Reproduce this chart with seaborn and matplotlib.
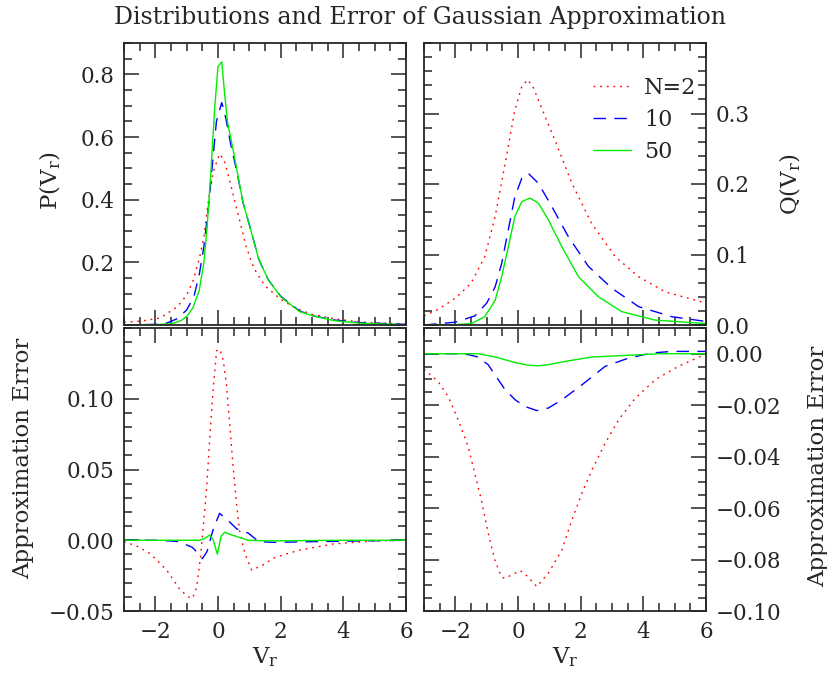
import matplotlib
matplotlib.use("Agg")
import matplotlib.pyplot as plt
import seaborn as sns
from matplotlib.ticker import MultipleLocator

# ---- P(V_r) (top left) ----
p2_x = [-3.0, -2.5, -1.85, -1.3, -1.0, -0.8, -0.6, -0.45, -0.3, -0.15, 0.05, 0.2, 0.35, 0.5, 0.7, 0.9,
        1.15, 1.5, 2.0, 2.5, 3.0, 3.7, 4.5, 5.2, 6.0]
p2_y = [0.009, 0.012, 0.022, 0.058, 0.095, 0.14, 0.21, 0.28, 0.40, 0.49, 0.546, 0.525, 0.47, 0.41,
        0.33, 0.25, 0.18, 0.125, 0.082, 0.052, 0.034, 0.02, 0.01, 0.006, 0.003]
p10_x = [-3.0, -2.0, -1.64, -1.3, -1.0, -0.77, -0.6, -0.45, -0.3, -0.2, -0.05, 0.12, 0.25, 0.4, 0.6,
         0.8, 1.0, 1.3, 1.6, 2.0, 2.6, 3.0, 3.7, 4.5, 6.0]
p10_y = [0.0, 0.002, 0.006, 0.02, 0.048, 0.09, 0.16, 0.25, 0.38, 0.49, 0.65, 0.71, 0.66, 0.58, 0.49,
         0.39, 0.32, 0.21, 0.145, 0.092, 0.045, 0.03, 0.016, 0.008, 0.002]
p50_x = [-3.0, -2.0, -1.5, -1.2, -1.0, -0.8, -0.6, -0.45, -0.35, -0.22, -0.1, 0.0, 0.12, 0.2, 0.3,
         0.5, 0.8, 1.0, 1.3, 1.6, 2.0, 2.6, 3.0, 3.7, 4.5, 6.0]
p50_y = [0.0, 0.001, 0.004, 0.013, 0.027, 0.055, 0.11, 0.2, 0.31, 0.5, 0.7, 0.825, 0.84, 0.75, 0.65,
         0.55, 0.39, 0.32, 0.21, 0.145, 0.09, 0.043, 0.03, 0.014, 0.006, 0.001]

# ---- Q(V_r) (top right) ----
q2_x = [-3.0, -2.55, -2.0, -1.5, -1.06, -0.73, -0.41, -0.1, 0.12, 0.31, 0.5, 0.65, 1.18, 1.72, 2.35,
        3.1, 3.85, 4.7, 6.0]
q2_y = [0.013, 0.022, 0.038, 0.059, 0.097, 0.154, 0.229, 0.305, 0.338, 0.348, 0.336, 0.319, 0.262,
        0.201, 0.144, 0.097, 0.0685, 0.047, 0.031]
q10_x = [-3.0, -2.5, -2.0, -1.37, -1.0, -0.73, -0.52, -0.31, -0.1, 0.12, 0.33, 0.65, 1.08, 1.61, 2.25,
         3.0, 3.85, 4.91, 6.0]
q10_y = [0.0, 0.002, 0.004, 0.013, 0.031, 0.054, 0.0875, 0.135, 0.182, 0.208, 0.215, 0.201, 0.168,
         0.125, 0.083, 0.052, 0.026, 0.0118, 0.005]
q50_x = [-3.0, -2.0, -1.49, -1.06, -0.73, -0.52, -0.31, -0.1, 0.12, 0.38, 0.65, 0.97, 1.4, 1.93, 2.57,
         3.31, 4.37, 6.0]
q50_y = [0.0, 0.0005, 0.002, 0.0118, 0.035, 0.0685, 0.111, 0.154, 0.175, 0.18, 0.173, 0.149, 0.111,
         0.0685, 0.04, 0.019, 0.007, 0.002]

# ---- error of P (bottom left) ----
ep2_x = [-3.0, -2.6, -2.17, -1.64, -1.21, -0.95, -0.81, -0.68, -0.57, -0.47, -0.36, -0.26, -0.15,
         -0.045, 0.06, 0.17, 0.28, 0.38, 0.49, 0.6, 0.7, 0.86, 1.07, 1.4, 1.77, 2.2, 2.62, 3.68, 4.96, 6.0]
ep2_y = [-0.001, -0.004, -0.0094, -0.021, -0.035, -0.040, -0.041, -0.033, -0.014, 0.0094, 0.0377,
         0.073, 0.108, 0.134, 0.135, 0.127, 0.108, 0.080, 0.050, 0.024, 0.005, -0.0094, -0.021,
         -0.018, -0.0127, -0.0095, -0.0069, -0.0026, -0.0005, 0.0]
ep10_x = [-3.0, -2.0, -1.5, -1.25, -0.82, -0.6, -0.5, -0.35, -0.15, 0.05, 0.3, 0.6, 0.97, 1.3, 1.8,
          3.0, 6.0]
ep10_y = [0.0, 0.0, -0.0005, -0.001, -0.005, -0.010, -0.013, -0.008, 0.008, 0.019, 0.0144, 0.008,
          0.005, -0.001, -0.0015, -0.001, 0.0]
ep50_x = [-3.0, -0.6, -0.45, -0.26, -0.15, -0.02, 0.1, 0.22, 0.4, 0.6, 0.97, 1.5, 2.5, 4.0, 6.0]
ep50_y = [0.0, 0.0, 0.001, 0.0037, 0.0, -0.0099, 0.003, 0.0057, 0.004, 0.0026, 0.0, -0.0004,
          -0.0003, 0.0, 0.0]

# ---- error of Q (bottom right) ----
eq2_x = [-3.0, -2.55, -2.23, -1.91, -1.59, -1.38, -1.17, -0.95, -0.74, -0.53, -0.43, -0.2, 0.07, 0.3,
         0.6, 0.97, 1.4, 1.72, 2.04, 2.36, 2.78, 3.21, 3.74, 4.38, 5.12, 5.87, 6.0]
eq2_y = [-0.006, -0.0108, -0.0166, -0.0257, -0.0361, -0.0465, -0.0568, -0.0698, -0.0802, -0.0867,
         -0.0873, -0.086, -0.0843, -0.0865, -0.0905, -0.0853, -0.0763, -0.0646, -0.0542, -0.0451,
         -0.0348, -0.0257, -0.0173, -0.0101, -0.0049, -0.0008, -0.0005]
eq10_x = [-3.0, -2.0, -1.6, -1.27, -0.95, -0.63, -0.41, -0.09, 0.22, 0.6, 0.97, 1.4, 2.04, 2.78, 3.53,
          4.27, 4.91, 6.0]
eq10_y = [0.0, 0.0, -0.0003, -0.0013, -0.0043, -0.0101, -0.014, -0.0179, -0.0205, -0.0221, -0.0211,
          -0.0179, -0.0121, -0.0049, -0.0017, 0.0003, 0.0009, 0.0009]
eq50_x = [-3.0, -1.27, -0.71, -0.11, 0.3, 0.65, 1.0, 1.5, 2.35, 3.85, 4.5, 6.0]
eq50_y = [0.0, 0.0, -0.0013, -0.0034, -0.0044, -0.0047, -0.0042, -0.003, -0.0013, -0.0004, 0.0, 0.0]

labels = ["N=2", "10", "50"]
colors = ["#ff0000", "#0000ff", "#00ee00"]
styles = [(0, (1.3, 3.5)), (0, (9, 6)), "-"]

sns.set_style("ticks")
plt.rcParams["font.family"] = ["DejaVu Serif"]
plt.rcParams["mathtext.fontset"] = "dejavuserif"

fig = plt.figure(figsize=(8.28, 6.73), dpi=100)
W, H = 828, 673


def make_ax(x0, y0, x1, y1):
    return fig.add_axes([x0 / W, 1 - y1 / H, (x1 - x0) / W, (y1 - y0) / H])


ax_p = make_ax(124, 43, 406, 325)
ax_q = make_ax(424, 43, 706, 325)
ax_ep = make_ax(124, 328, 406, 611)
ax_eq = make_ax(424, 328, 706, 611)

panels = [
    (ax_p, [(p2_x, p2_y), (p10_x, p10_y), (p50_x, p50_y)]),
    (ax_q, [(q2_x, q2_y), (q10_x, q10_y), (q50_x, q50_y)]),
    (ax_ep, [(ep2_x, ep2_y), (ep10_x, ep10_y), (ep50_x, ep50_y)]),
    (ax_eq, [(eq2_x, eq2_y), (eq10_x, eq10_y), (eq50_x, eq50_y)]),
]

for ax, curves in panels:
    for (xs, ys), c, ls, lab in zip(curves, colors, styles, labels):
        sns.lineplot(x=xs, y=ys, ax=ax, color=c, linestyle=ls, linewidth=1.0,
                     label=lab if ax is ax_q else None)
    ax.set_xlim(-3, 6)
    ax.xaxis.set_major_locator(MultipleLocator(2))
    ax.xaxis.set_minor_locator(MultipleLocator(0.5))
    ax.tick_params(which="both", direction="in", top=True, right=True, labelsize=15.5, width=1.1)
    ax.tick_params(which="major", length=10.5, pad=7)
    ax.tick_params(which="minor", length=5.5)
    for sp in ax.spines.values():
        sp.set_linewidth(1.3)
    ax.set_xlabel("")
    ax.set_ylabel("")

# y scales
ax_p.set_ylim(0, 0.9)
ax_p.set_yticks([0, 0.2, 0.4, 0.6, 0.8])
ax_p.yaxis.set_minor_locator(MultipleLocator(0.05))
ax_p.yaxis.set_major_formatter("{x:.1f}")

ax_q.set_ylim(0, 0.4)
ax_q.set_yticks([0, 0.1, 0.2, 0.3])
ax_q.yaxis.set_minor_locator(MultipleLocator(0.02))
ax_q.yaxis.set_major_formatter("{x:.1f}")

ax_ep.set_ylim(-0.05, 0.15)
ax_ep.set_yticks([-0.05, 0, 0.05, 0.10])
ax_ep.yaxis.set_minor_locator(MultipleLocator(0.01))
ax_ep.yaxis.set_major_formatter("{x:.2f}")

ax_eq.set_ylim(-0.10, 0.01)
ax_eq.set_yticks([-0.10, -0.08, -0.06, -0.04, -0.02, 0.0])
ax_eq.yaxis.set_minor_locator(MultipleLocator(0.005))
ax_eq.yaxis.set_major_formatter("{x:.2f}")

for ax in (ax_p, ax_q):
    ax.tick_params(labelbottom=False)
for ax in (ax_q, ax_eq):
    ax.tick_params(labelleft=False, labelright=True)

for ax in (ax_ep, ax_eq):
    ax.set_xticks([-2, 0, 2, 4, 6])
    ax.set_xlabel(r"V$_\mathrm{r}$", fontsize=16.5)
    ax.xaxis.set_label_coords(0.5, -0.12)

ax_p.set_ylabel(r"P(V$_\mathrm{r}$)", fontsize=16.5)
ax_p.yaxis.set_label_coords(-0.215, 0.51)
ax_q.set_ylabel(r"Q(V$_\mathrm{r}$)", fontsize=16.5)
ax_q.yaxis.set_label_position("right")
ax_q.yaxis.set_label_coords(1.255, 0.5)
ax_ep.set_ylabel("Approximation Error", fontsize=16.5)
ax_ep.yaxis.set_label_coords(-0.32, 0.54)
ax_eq.set_ylabel("Approximation Error", fontsize=16.5)
ax_eq.yaxis.set_label_position("right")
ax_eq.yaxis.set_label_coords(1.357, 0.51)

ax_q.legend(loc="upper left", bbox_to_anchor=(593 / W, 1 - 77 / H), bbox_transform=fig.transFigure,
            frameon=False, fontsize=16, handlelength=1.7, handletextpad=0.6, labelspacing=0.45,
            borderpad=0, borderaxespad=0)

fig.suptitle("Distributions and Error of Gaussian Approximation", fontsize=17, x=0.507,
             y=1 - 6 / H, va="top")

fig.savefig("out.png", dpi=100)
